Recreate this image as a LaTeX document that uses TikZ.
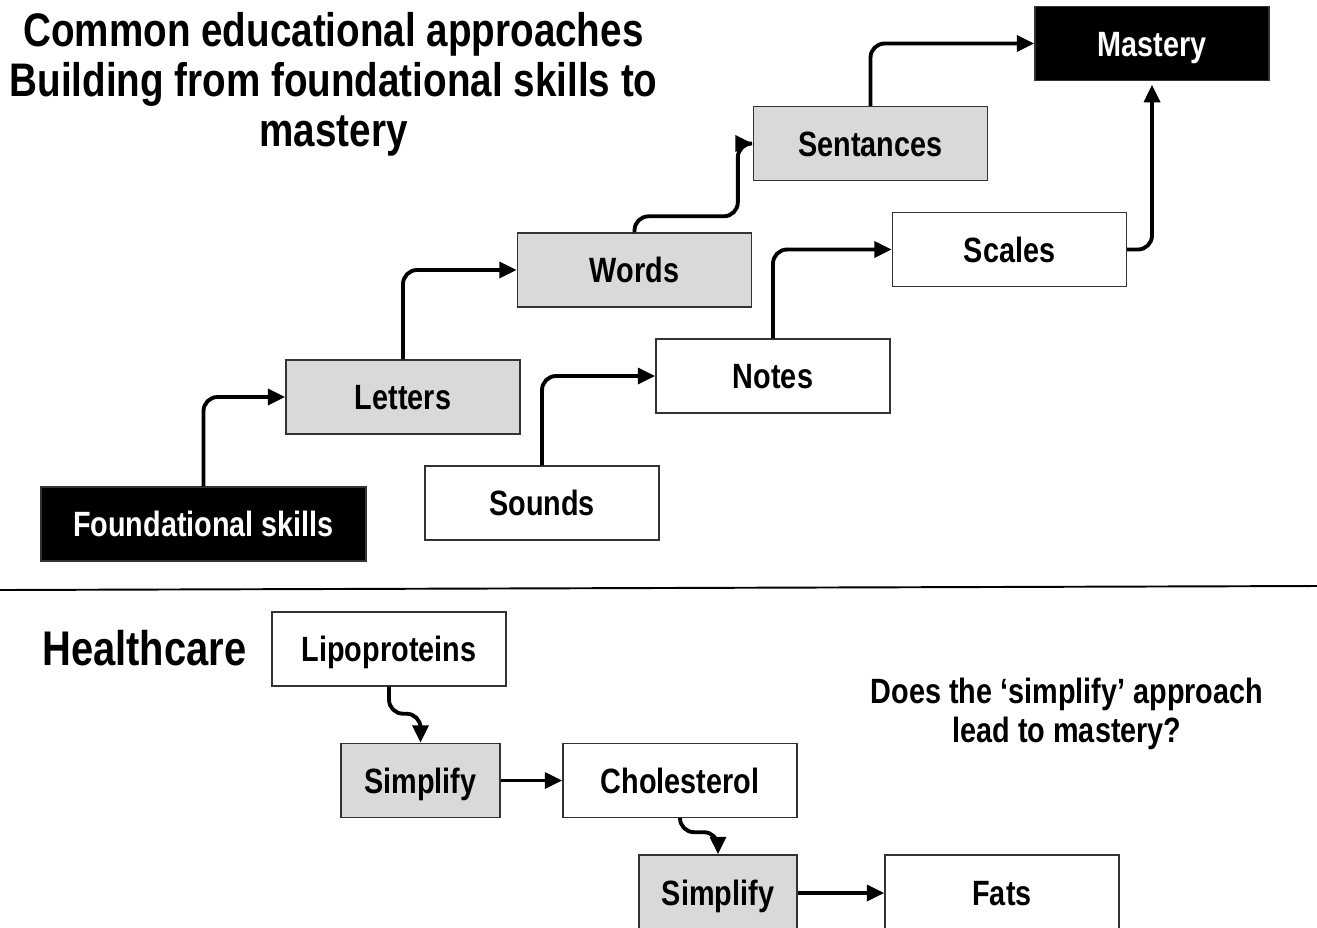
\documentclass[tikz,border=0pt]{standalone}
\usepackage{fontspec}
\newfontfamily\cond{Liberation Sans}[FakeStretch=0.82]
\usetikzlibrary{arrows.meta}
\definecolor{boxgray}{HTML}{D9D9D9}
\definecolor{edge}{HTML}{333333}
\tikzset{
  box/.style={draw=edge, line width=0.8pt, minimum width=4.68cm, minimum height=1.48cm,
    inner sep=0pt, text height=14.6pt, text depth=0pt,
    font=\cond\bfseries\fontsize{20pt}{24pt}\selectfont},
  graybox/.style={box, fill=boxgray},
  whitebox/.style={box, fill=white},
  blackbox/.style={box, fill=black, text=white},
  conn/.style={line width=2.2pt, rounded corners=8pt,
    -{Triangle[length=10pt,width=9pt]}},
}
\begin{document}
\begin{tikzpicture}[x=0.02cm, y=-0.02cm]
\clip (0,0) rectangle (1317,927);
\useasboundingbox (0,0) rectangle (1317,927);

% heading
\node[anchor=north, align=center, inner sep=0pt,
      font=\cond\bfseries\fontsize{26.8pt}{28.5pt}\selectfont] (title) at (333.5,12)
  {Common educational approaches\\Building from foundational skills to\\mastery};

% staircase of skills
\node[blackbox, minimum width=6.5cm] (found) at (203.5,524) {Foundational skills};
\node[graybox] (letters) at (403,397) {Letters};
\node[graybox] (words) at (634.5,270) {Words};
\node[graybox] (sentences) at (870.5,143.5) {Sentances};
\node[blackbox] (mastery) at (1152,43.5) {Mastery};
\node[whitebox] (sounds) at (542,503) {Sounds};
\node[whitebox] (notes) at (773,376) {Notes};
\node[whitebox] (scales) at (1009.5,249.5) {Scales};

\draw[conn] (found.north) |- (letters.west);
\draw[conn] (letters.north) |- (words.west);
\draw[conn] (words.north) -- ++(0,-16) -| ([xshift=-0.3cm]sentences.west) -- (sentences.west);
\draw[conn] (sentences.north) |- (mastery.west);
\draw[conn] (sounds.north) |- (notes.west);
\draw[conn] (notes.north) |- (scales.west);
\draw[conn, shorten >=2pt] (scales.east) -| (mastery.south);

% divider
\draw[line width=1.1pt] (0,590) coordinate (dl) -- (1317,586) coordinate (dr);

% healthcare example
\node[anchor=west, inner sep=0pt, font=\cond\bfseries\fontsize{27.7pt}{30pt}\selectfont]
  (health) at (42,648) {Healthcare};
\node[whitebox] (lipo) at (389,649) {Lipoproteins};
\node[graybox, minimum width=3.18cm] (simp1) at (420.5,780.5) {Simplify};
\node[whitebox] (chol) at (680,780.5) {Cholesterol};
\node[graybox, minimum width=3.16cm, minimum height=1.52cm] (simp2) at (718,893) {Simplify};
\node[whitebox, minimum height=1.52cm] (fats) at (1002,893) {Fats};

\draw[conn] (lipo.south) -- ++(0,27) -| (simp1.north);
\draw[conn] (simp1.east) -- (chol.west);
\draw[conn] (chol.south) -- ++(0,14) -| (simp2.north);
\draw[conn] (simp2.east) -- (fats.west);

\node[align=center, inner sep=0pt,
      font=\cond\bfseries\fontsize{20pt}{22pt}\selectfont] (question) at (1067,714)
  {Does the ‘simplify’ approach\\lead to mastery?};
\end{tikzpicture}
\end{document}
